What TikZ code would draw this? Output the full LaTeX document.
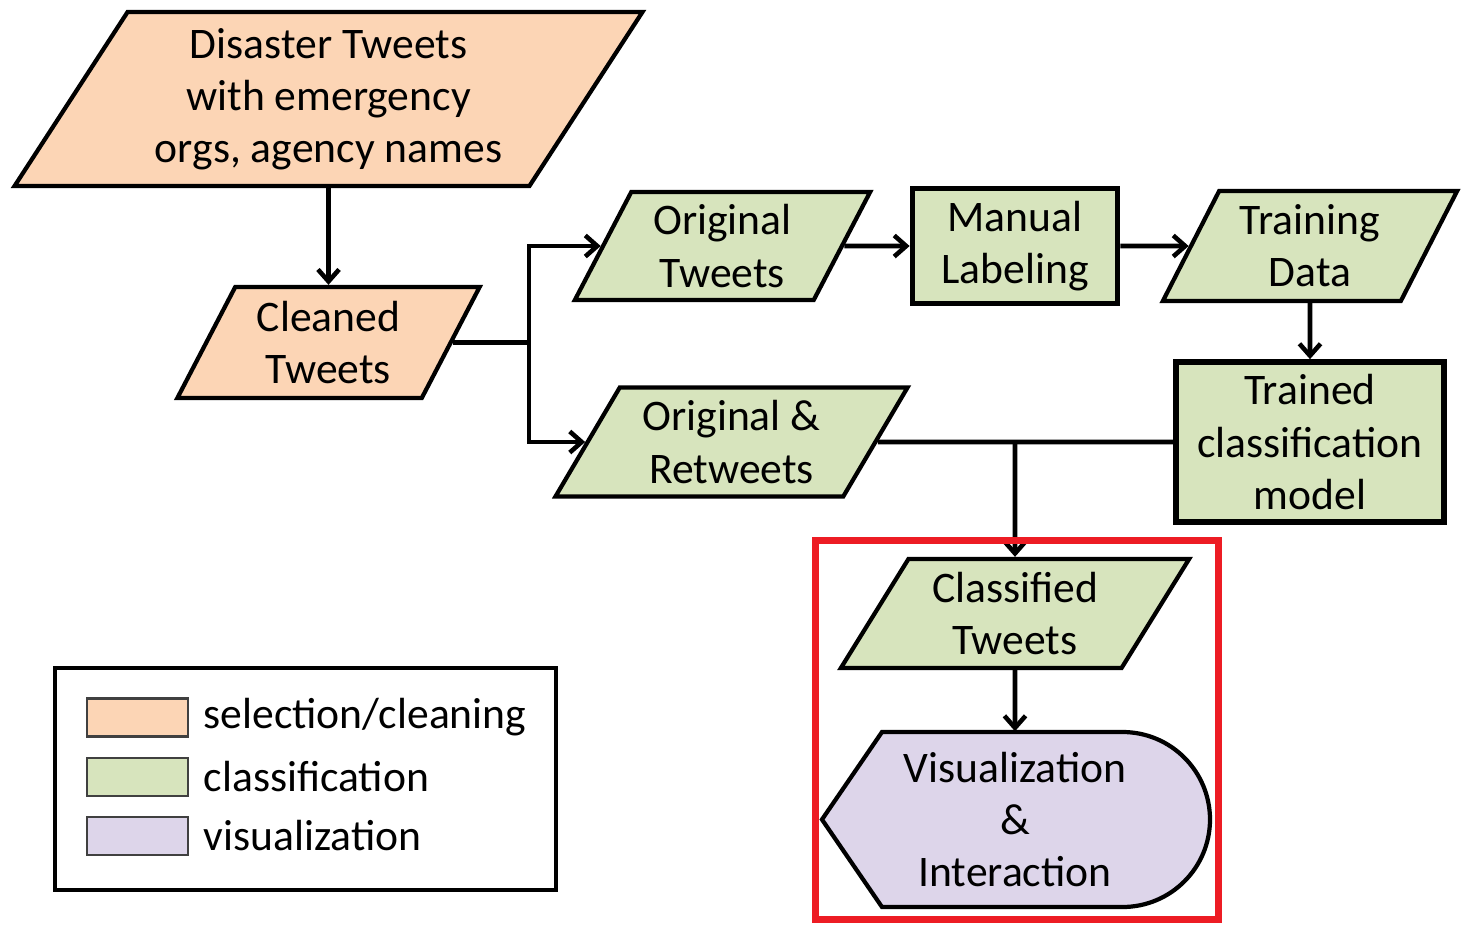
\documentclass[tikz,border=0pt]{standalone}
\usepackage{fontspec}
\setmainfont{Carlito}
\usetikzlibrary{shapes.geometric,arrows.meta,positioning}
\definecolor{peach}{RGB}{252,213,181}
\definecolor{leaf}{RGB}{215,228,189}
\definecolor{lilac}{RGB}{221,213,234}
\definecolor{redframe}{RGB}{237,28,36}
\newcommand{\boxfont}{\fontsize{12.4}{14.8}\selectfont}
\tikzset{
  iodata/.style={trapezium, trapezium stretches=true, draw, line width=1.2pt,
    inner sep=0pt, align=center, font=\boxfont},
  procbox/.style={rectangle, draw, line width=1.6pt, inner sep=0pt,
    align=center, font=\boxfont, fill=leaf},
  flow/.style={line width=1.3pt, -{Straight Barb[length=3.4pt,width=6pt]}},
  link/.style={line width=1.3pt},
  swatch/.style={rectangle, draw=black!75, line width=0.6pt,
    minimum width=1.01cm, minimum height=0.38cm},
  keytext/.style={font=\boxfont, inner sep=0pt, right=0.14cm of #1}
}
\begin{document}
\begin{tikzpicture}[x=0.01cm,y=-0.01cm]
\useasboundingbox (0,0) rectangle (1462,926);
% selection and cleaning
\node[iodata, fill=peach, minimum width=6.29cm, minimum height=1.74cm,
  trapezium left angle=55.4, trapezium right angle=124.6] (dis) at (328.5,99)
  {Disaster Tweets\\with emergency\\orgs, agency names};
\node[iodata, fill=peach, minimum width=3.03cm, minimum height=1.11cm,
  trapezium left angle=61.7, trapezium right angle=118.3] (cln) at (328.5,342.5)
  {Cleaned\\Tweets};
% classification
\node[iodata, fill=leaf, minimum width=2.97cm, minimum height=1.08cm,
  trapezium left angle=62.6, trapezium right angle=117.4] (org) at (722.5,246)
  {Original\\Tweets};
\node[procbox, minimum width=2.05cm, minimum height=1.15cm] (man) at (1015,246)
  {Manual\\Labeling};
\node[iodata, fill=leaf, minimum width=2.96cm, minimum height=1.10cm,
  trapezium left angle=62.2, trapezium right angle=117.8] (trn) at (1310,246)
  {Training\\Data};
\node[procbox, minimum width=2.68cm, minimum height=1.60cm] (mdl) at (1310,442)
  {Trained\\classification\\model};
\node[iodata, fill=leaf, minimum width=3.53cm, minimum height=1.09cm,
  trapezium left angle=58.2, trapezium right angle=121.8] (ort) at (731.5,442)
  {Original \&\\Retweets};
\node[iodata, fill=leaf, minimum width=3.50cm, minimum height=1.09cm,
  trapezium left angle=57.5, trapezium right angle=122.5] (cls) at (1015,613.5)
  {Classified\\Tweets};
% visualization
\draw[line width=1.2pt, fill=lilac] (822,819.5) -- (882,732) -- (1122.5,732)
  arc[start angle=-90, end angle=90, radius=87.5] -- (882,907) -- cycle;
\node[rectangle, inner sep=0pt, align=center, font=\boxfont,
  minimum width=3.88cm, minimum height=1.75cm] (vis) at (1015,819.5)
  {Visualization\\\&\\Interaction};
% connectors
\draw[flow] (dis) -- (cln);
\draw[link] (cln.east) -- ++(76,0) coordinate (fork);
\draw[flow] (fork) |- (org);
\draw[flow] (fork) |- (ort);
\draw[flow] (org) -- (man);
\draw[flow] (man) -- (trn);
\draw[flow] (trn) -- (mdl);
\draw[link] (ort) -- (mdl);
\draw[flow] (cls.north |- mdl.west) -- (cls);
\draw[flow] (cls) -- (vis);
\draw[redframe, line width=2pt] (815.5,540.5) rectangle (1218.5,919.5);
% legend
\draw[line width=1.4pt] (55,668) rectangle (556,890);
\node[swatch, fill=peach] (k1) at (137.5,717.5) {};
\node[swatch, fill=leaf] (k2) at (137.5,777) {};
\node[swatch, fill=lilac] (k3) at (137.5,836) {};
\node[keytext=k1] (t1) {selection/cleaning};
\node[keytext=k2] (t2) {classification};
\node[keytext=k3] (t3) {visualization};
\end{tikzpicture}
\end{document}
